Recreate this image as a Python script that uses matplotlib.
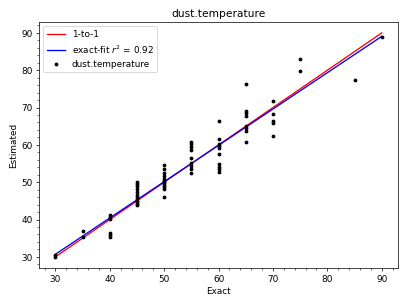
import matplotlib
matplotlib.use('Agg')
import matplotlib.pyplot as plt
import numpy as np

# estimated values, grouped by exact value
exact_groups = [30, 35, 40, 45, 50, 55, 60, 65, 70, 75, 85, 90]
estimated_groups = [
    [30.5, 30.0],
    [36.9, 35.4],
    [41.2, 40.8, 40.1, 36.3, 35.8, 35.3],
    [50.1, 49.6, 49.0, 48.2, 47.4, 46.6, 46.0, 45.5, 45.0, 44.6, 44.2, 43.9],
    [54.6, 53.6, 52.6, 51.6, 50.8, 50.3, 50.0, 49.7, 49.3, 48.8, 48.3, 46.0],
    [60.9, 60.2, 59.4, 58.5, 56.5, 55.1, 54.4, 53.6, 52.4],
    [66.3, 61.5, 60.2, 59.7, 59.1, 57.5, 55.0, 54.2, 53.5, 52.8],
    [76.2, 69.1, 68.5, 67.8, 65.0, 64.4, 63.8, 60.9],
    [71.7, 68.4, 66.3, 65.9, 62.5],
    [82.9, 79.7],
    [77.5],
    [89.0],
]

fit_slope = 0.973
fit_intercept = 1.5
fit_r2 = 0.92
title = 'dust.temperature'

exact = np.concatenate([[x] * len(v) for x, v in zip(exact_groups, estimated_groups)])
estimated = np.concatenate(estimated_groups)

xline = np.array([exact.min(), exact.max()])

fig, ax = plt.subplots(figsize=(6.4, 4.8), dpi=63.6)
ax.plot(xline, xline, color='red', lw=1.5, label='1-to-1')
ax.plot(xline, fit_slope * xline + fit_intercept, color='blue', lw=1.5,
        label='exact-fit $r^2$ = %.2f' % fit_r2)
ax.plot(exact, estimated, 'o', color='black', ms=4.3, mew=0, label=title)

ax.set_xlim(27, 93)
ax.set_ylim(27, 93)
ax.minorticks_on()
ax.set_title(title)
ax.set_xlabel('Exact')
ax.set_ylabel('Estimated')
ax.legend(loc='upper left')

fig.subplots_adjust(left=0.096, right=0.978, bottom=0.121, top=0.928)
fig.savefig('out.png', dpi=63.6)
